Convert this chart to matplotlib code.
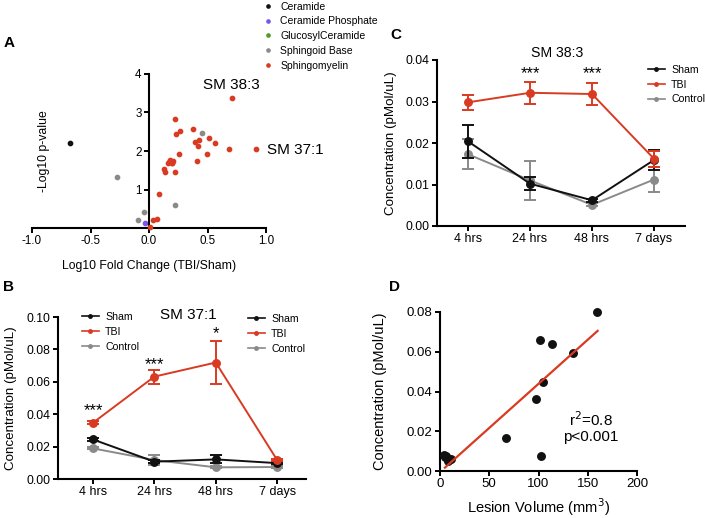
import matplotlib
matplotlib.use("Agg")
import matplotlib.pyplot as plt
from matplotlib.lines import Line2D
import numpy as np

plt.rcParams['font.family'] = ['Liberation Sans', 'DejaVu Sans']

RED = '#d93a22'
GRAY = '#8a8a8a'
BLACK = '#111111'
PURPLE = '#7a55e8'
GREEN = '#4f9a2a'

# ---------------- Panel A data (volcano) ----------------
ceramide_x = [-0.677]
ceramide_y = [2.195]
cer_phosphate_x = [-0.034]
cer_phosphate_y = [0.13]
glucosyl_x = []
glucosyl_y = []
sphingoid_x = [-0.277, -0.04, -0.097, 0.451, 0.22]
sphingoid_y = [1.33, 0.41, 0.20, 2.46, 0.60]
sm_x = [0.709, 0.911, 0.680, 0.223, 0.266, 0.229, 0.377, 0.391, 0.423, 0.429,
        0.514, 0.566, 0.494, 0.409, 0.260, 0.180, 0.166, 0.194, 0.209, 0.129,
        0.140, 0.220, 0.083, 0.037, 0.066, 0.009, 0.200, 0.175]
sm_y = [3.375, 2.04, 2.04, 2.82, 2.52, 2.44, 2.57, 2.23, 2.13, 2.28,
        2.35, 2.21, 1.92, 1.74, 1.93, 1.76, 1.70, 1.69, 1.74, 1.52,
        1.45, 1.46, 0.88, 0.21, 0.23, 0.03, 1.68, 1.72]
volcano_labels = ['SM 38:3', 'SM 37:1']
volcano_label_pos = [(0.46, 3.71), (1.01, 2.03)]

# ---------------- Panels B / C data ----------------
timepoints = ['4 hrs', '24 hrs', '48 hrs', '7 days']

b_sham = [0.0244, 0.0107, 0.0121, 0.0098]
b_sham_err = [0.0008, 0.0010, 0.0025, 0.0008]
b_tbi = [0.0347, 0.0632, 0.0719, 0.0117]
b_tbi_err = [0.0008, 0.0043, 0.0131, 0.0008]
b_ctrl = [0.0189, 0.0117, 0.0072, 0.0074]
b_ctrl_err = [0.0006, 0.0030, 0.0006, 0.0006]
b_stars = ['***', '***', '*', '']
b_star_y = [0.0420, 0.0705, 0.0900, 0]

c_sham = [0.0204, 0.0102, 0.0062, 0.0159]
c_sham_err = [0.0040, 0.0016, 0.0004, 0.0025]
c_tbi = [0.0298, 0.0321, 0.0318, 0.0162]
c_tbi_err = [0.0018, 0.0026, 0.0027, 0.0019]
c_ctrl = [0.0173, 0.0110, 0.0051, 0.0112]
c_ctrl_err = [0.0036, 0.0047, 0.0004, 0.0029]
c_stars = ['', '***', '***', '']
c_star_y = [0, 0.0368, 0.0368, 0]

# ---------------- Panel D data ----------------
lesion_volume = [159.8, 101.4, 113.9, 135.1, 104.4, 97.6, 66.6, 103.0,
                 4.0, 6.5, 9.0, 11.5, 8.0, 5.5]
lesion_conc = [0.0800, 0.0660, 0.0638, 0.0596, 0.0448, 0.0360, 0.0167, 0.0074,
               0.0078, 0.0074, 0.0060, 0.0060, 0.0048, 0.0070]
fit_x = [5, 160]
fit_y = [0.0017, 0.0705]

# ---------------- Figure ----------------
W, H = 705, 518
fig = plt.figure(figsize=(W / 100, H / 100), dpi=100)


def ax_px(l, t, r, b):
    return fig.add_axes([l / W, 1 - b / H, (r - l) / W, (b - t) / H])


def style_axes(ax, fs=8.8):
    for s in ['top', 'right']:
        ax.spines[s].set_visible(False)
    for s in ['left', 'bottom']:
        ax.spines[s].set_linewidth(1.5)
        ax.spines[s].set_color('black')
    ax.tick_params(width=1.4, length=3.8, labelsize=fs, direction='out', pad=1.5)


# ---- Panel A ----
axA = ax_px(32, 74, 266, 228)
style_axes(axA, fs=8.4)
axA.spines['left'].set_position(('data', 0))
ms = 3.1
axA.plot(ceramide_x, ceramide_y, 'o', color=BLACK, ms=ms, clip_on=False, label='Ceramide')
axA.plot(cer_phosphate_x, cer_phosphate_y, 'o', color=PURPLE, ms=ms, clip_on=False, label='Ceramide Phosphate')
axA.plot(glucosyl_x, glucosyl_y, 'o', color=GREEN, ms=ms, clip_on=False, label='GlucosylCeramide')
axA.plot(sphingoid_x, sphingoid_y, 'o', color=GRAY, ms=ms, clip_on=False, label='Sphingoid Base')
axA.plot(sm_x, sm_y, 'o', color=RED, ms=ms, clip_on=False, label='Sphingomyelin', zorder=3)
axA.set_xlim(-1, 1)
axA.set_ylim(0, 4)
axA.set_xticks([-1.0, -0.5, 0.0, 0.5, 1.0])
axA.set_xticklabels(['-1.0', '-0.5', '0.0', '0.5', '1.0'])
axA.set_yticks([1, 2, 3, 4])
axA.set_xlabel('Log10 Fold Change (TBI/Sham)', fontsize=8.8, labelpad=9)
axA.set_ylabel('-Log10 p-value', fontsize=8.8)
axA.yaxis.set_label_coords(0.077, 0.5)
for lab, (lx, ly) in zip(volcano_labels, volcano_label_pos):
    axA.text(lx, ly, lab, fontsize=11, ha='left', va='center', clip_on=False)
axA.legend(loc='upper left', bbox_to_anchor=(263 / W, 1 - 1 / H), bbox_transform=fig.transFigure,
           frameon=False, fontsize=7.5, handlelength=0.9, handletextpad=0.7,
           labelspacing=0.46, borderaxespad=0, borderpad=0.05, markerscale=0.75)

# ---- helper for time-course panels ----
def timecourse(ax, sham, sham_e, tbi, tbi_e, ctrl, ctrl_e, stars, star_y, title, ymax, yticks,
               title_fs, title_xy, label_x):
    x = np.arange(len(timepoints))
    style_axes(ax, fs=8.8)
    kw = dict(marker='o', ms=5.4, lw=1.4, capsize=4, elinewidth=1.4, capthick=1.4, clip_on=False)
    ax.errorbar(x, ctrl, yerr=ctrl_e, color=GRAY, zorder=2, **kw)
    ax.errorbar(x, sham, yerr=sham_e, color=BLACK, zorder=3, **kw)
    ax.errorbar(x, tbi, yerr=tbi_e, color=RED, zorder=4, **kw)
    for xi, s, sy in zip(x, stars, star_y):
        if s:
            ax.text(xi, sy, s, ha='center', va='center', fontsize=12)
    ax.set_xticks(x)
    ax.set_xticklabels(timepoints, fontsize=9)
    ax.set_yticks(yticks)
    ax.set_yticklabels(['%.2f' % v for v in yticks])
    ax.set_ylim(0, ymax)
    ax.text(title_xy[0], title_xy[1], title, fontsize=title_fs, transform=ax.transAxes,
            ha='center', va='center')
    ax.set_ylabel('Concentration (pMol/uL)', fontsize=9.6)
    ax.yaxis.set_label_coords(label_x, 0.5)


def small_handles():
    return [Line2D([], [], color=BLACK, marker='o', ms=2.5, lw=1.2),
            Line2D([], [], color=RED, marker='o', ms=2.5, lw=1.2),
            Line2D([], [], color=GRAY, marker='o', ms=2.5, lw=1.2)]


legend_names = ['Sham', 'TBI', 'Control']
leg_kw = dict(bbox_transform=fig.transFigure, frameon=False, fontsize=7.6, handlelength=1.6,
              handletextpad=0.6, labelspacing=0.45, borderaxespad=0, borderpad=0, loc='upper left')

# ---- Panel C ----
axC = ax_px(437, 60, 685, 226)
timecourse(axC, c_sham, c_sham_err, c_tbi, c_tbi_err, c_ctrl, c_ctrl_err,
           c_stars, c_star_y, 'SM 38:3', 0.04, [0.00, 0.01, 0.02, 0.03, 0.04], 10.2,
           (0.484, 1.042), -0.161)
axC.set_xlim(-0.5, 3.5)
axC.legend(small_handles(), legend_names, bbox_to_anchor=(648 / W, 1 - 65 / H), **leg_kw)

# ---- Panel B ----
axB = ax_px(58, 317, 306, 479)
timecourse(axB, b_sham, b_sham_err, b_tbi, b_tbi_err, b_ctrl, b_ctrl_err,
           b_stars, b_star_y, 'SM 37:1', 0.10, [0.00, 0.02, 0.04, 0.06, 0.08, 0.10], 11,
           (0.524, 1.012), -0.165)
axB.set_xlim(-0.57, 3.47)
leg1 = axB.legend(small_handles(), legend_names, bbox_to_anchor=(82 / W, 1 - 312 / H), **leg_kw)
axB.add_artist(leg1)
axB.legend(small_handles(), legend_names, bbox_to_anchor=(248 / W, 1 - 314 / H), **leg_kw)

# ---- Panel D ----
axD = ax_px(440, 312, 637, 471)
style_axes(axD, fs=9.5)
axD.plot(lesion_volume, lesion_conc, 'o', color=BLACK, ms=5.4, clip_on=False, zorder=3)
axD.plot(fit_x, fit_y, '-', color=RED, lw=1.6, zorder=4)
axD.set_xlim(0, 200)
axD.set_ylim(0, 0.08)
axD.set_xticks([0, 50, 100, 150, 200])
axD.set_yticks([0.00, 0.02, 0.04, 0.06, 0.08])
axD.set_yticklabels(['%.2f' % v for v in [0.00, 0.02, 0.04, 0.06, 0.08]])
axD.set_xlabel('Lesion Volume (mm$^3$)', fontsize=10.5, labelpad=4)
axD.set_ylabel('Concentration (pMol/uL)', fontsize=10.5)
axD.yaxis.set_label_coords(-0.269, 0.5)
axD.text(0.767, 0.275, 'r$^2$=0.8\np<0.001', transform=axD.transAxes, fontsize=11,
         ha='center', va='center', linespacing=1.15)

# ---- Panel letters ----
for lab, (px, py) in zip(['A', 'B', 'C', 'D'], [(9, 43), (9, 287), (396, 35), (394, 287)]):
    fig.text(px / W, 1 - py / H, lab, fontsize=11, fontweight='bold', ha='center', va='center')

fig.savefig('out.png', dpi=100)
